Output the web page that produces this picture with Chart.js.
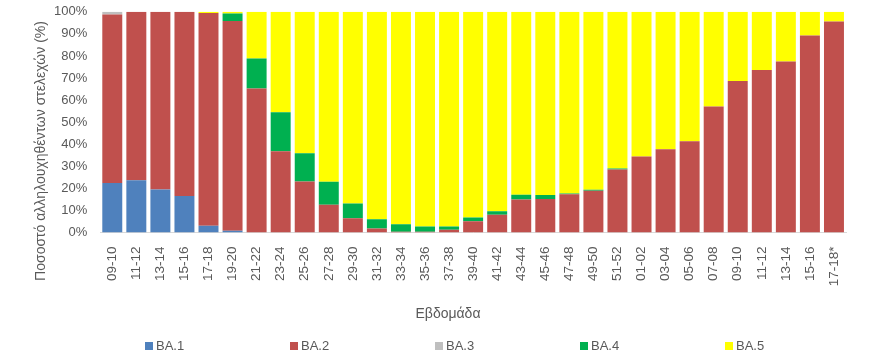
<!DOCTYPE html>
<html>
<head>
<meta charset="utf-8">
<script src="https://cdn.jsdelivr.net/npm/chart.js@4.4.0/dist/chart.umd.min.js"></script>
<style>
  body { margin: 0; background: #fff; }
  #wrap { position: relative; width: 892px; height: 363px; }
  #legend { position: absolute; left: 145px; top: 338px; display: flex; font-family: "Liberation Sans", sans-serif; font-size: 13px; color: #595959; }
  #legend .item { width: 145px; display: flex; align-items: center; }
  #legend .box { width: 8px; height: 8px; margin-right: 3px; }
</style>
</head>
<body>
<div id="wrap">
  <canvas id="myChart" width="892" height="363"></canvas>
  <div id="legend"></div>
</div>
<script>
// 週のラベル
var weeks = ["09-10", "11-12", "13-14", "15-16", "17-18", "19-20", "21-22", "23-24", "25-26", "27-28",
  "29-30", "31-32", "33-34", "35-36", "37-38", "39-40", "41-42", "43-44", "45-46", "47-48",
  "49-50", "51-52", "01-02", "03-04", "05-06", "07-08", "09-10", "11-12", "13-14", "15-16", "17-18*"];

// 各系統の割合 (%)
var ba1 = [22.4, 23.7, 19.4, 16.5, 3.0, 0.8, 0, 0, 0, 0, 0, 0, 0, 0, 0, 0, 0, 0, 0, 0, 0, 0, 0, 0, 0, 0, 0, 0, 0, 0, 0];
var ba2 = [76.4, 76.3, 80.6, 83.5, 96.4, 95.0, 65.2, 36.8, 23.1, 12.5, 6.4, 1.8, 0.3, 0.3, 1.2, 5.1, 8.0, 14.9, 15.2, 17.3,
  18.9, 28.5, 34.4, 37.7, 41.3, 57.1, 68.6, 73.6, 77.5, 89.3, 95.6];
var ba3 = [1.2, 0, 0, 0, 0, 0, 0, 0, 0, 0, 0, 0, 0, 0, 0, 0, 0, 0, 0, 0, 0, 0, 0, 0, 0, 0, 0, 0, 0, 0, 0];
var ba4 = [0, 0, 0, 0, 0, 3.4, 13.6, 17.7, 12.8, 10.5, 6.7, 4.2, 3.4, 2.4, 1.5, 1.7, 1.6, 2.2, 1.8, 0.3,
  0.4, 0.5, 0, 0, 0, 0, 0, 0, 0, 0, 0];
var ba5 = [0, 0, 0, 0, 0.6, 0.8, 21.2, 45.5, 64.1, 77.0, 86.9, 94.0, 96.3, 97.3, 97.3, 93.2, 90.4, 82.9, 83.0, 82.4,
  80.7, 71.0, 65.6, 62.3, 58.7, 42.9, 31.4, 26.4, 22.5, 10.7, 4.4];

var names = ["BA.1", "BA.2", "BA.3", "BA.4", "BA.5"];
var colors = ["#4F81BD", "#C0504D", "#BFBFBF", "#00B050", "#FFFF00"];
var series = [ba1, ba2, ba3, ba4, ba5];

var yTitle = 'Ποσοστό αλληλουχηθέντων στελεχών (%)';
var font = "'Liberation Sans', sans-serif";
var grey = "#595959";

var datasets = series.map(function (s, i) {
  return {
    label: names[i],
    data: s,
    backgroundColor: colors[i],
    borderWidth: 0,
    categoryPercentage: 1.0,
    barPercentage: 0.83
  };
});

// y軸タイトル (Excel風に少し下寄せ)
var yTitlePlugin = {
  id: 'yTitle',
  afterDraw: function (chart) {
    var c = chart.ctx;
    c.save();
    c.translate(41, 151);
    c.rotate(-Math.PI / 2);
    c.fillStyle = grey;
    c.font = "14px " + font;
    c.textAlign = 'center';
    c.textBaseline = 'middle';
    c.fillText(yTitle, 0, 0);
    c.restore();
  }
};

var ctx = document.getElementById("myChart").getContext('2d');
var myChart = new Chart(ctx, {
  type: 'bar',
  data: { labels: weeks, datasets: datasets },
  plugins: [yTitlePlugin],
  options: {
    responsive: false,
    animation: false,
    layout: { padding: { left: 50, right: 46, top: 0, bottom: 40 } },
    plugins: {
      legend: { display: false },
      tooltip: { enabled: false },
      title: {
        display: true,
        position: 'bottom',
        text: 'Εβδομάδα',
        color: grey,
        font: { family: font, size: 14, weight: 'normal' },
        padding: { top: 6, bottom: 0 }
      }
    },
    scales: {
      x: {
        stacked: true,
        grid: { display: false, drawTicks: false },
        border: { display: true, color: '#D9D9D9', width: 1 },
        ticks: {
          color: grey,
          font: { family: font, size: 13.5 },
          minRotation: 90,
          maxRotation: 90,
          autoSkip: false,
          padding: 14
        }
      },
      y: {
        stacked: true,
        min: 0,
        max: 100,
        grid: { display: false, drawTicks: true, tickLength: 9 },
        border: { display: false },
        ticks: {
          stepSize: 10,
          color: grey,
          font: { family: font, size: 13 },
          padding: 4,
          callback: function (v) { return v + '%'; }
        }
      }
    }
  }
});

// 凡例 (HTML)
var legend = document.getElementById("legend");
myChart.data.datasets.forEach(function (d) {
  var item = document.createElement("div");
  item.className = "item";
  var box = document.createElement("span");
  box.className = "box";
  box.style.background = d.backgroundColor;
  var txt = document.createElement("span");
  txt.textContent = d.label;
  item.appendChild(box);
  item.appendChild(txt);
  legend.appendChild(item);
});
</script>
</body>
</html>
